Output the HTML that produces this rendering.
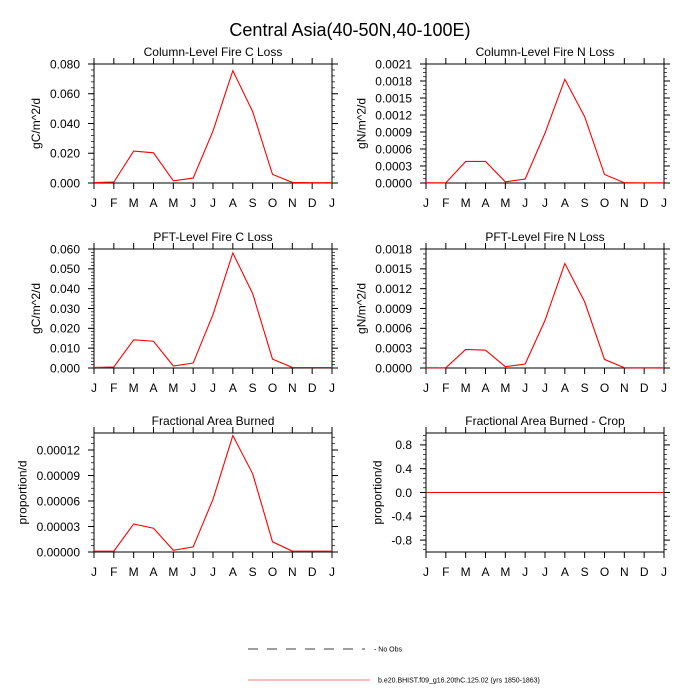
<!DOCTYPE html>
<html><head><meta charset="utf-8"><style>
html,body{margin:0;padding:0;background:#fff;}
svg{display:block;font-family:"Liberation Sans",sans-serif;}
</style></head><body>
<svg id="chart" width="700" height="700" xmlns="http://www.w3.org/2000/svg">
<text x="350" y="36" font-size="18" text-anchor="middle">Central Asia(40-50N,40-100E)</text>
<g id="panels"></g>
<g>
<line x1="248" y1="649" x2="365" y2="649" stroke="#000" stroke-width="0.8" stroke-dasharray="10,9"/>
<text x="374" y="651.5" font-size="7">- No Obs</text>
<line x1="248" y1="680" x2="370" y2="680" stroke="#f08080" stroke-width="1"/>
<text x="378" y="682.5" font-size="7">b.e20.BHIST.f09_g16.20thC.125.02 (yrs 1850-1863)</text>
</g>
</svg>
<script>
const months = ["J","F","M","A","M","J","J","A","S","O","N","D","J"];
const colCLoss = [0.0003,0.0006,0.0215,0.0203,0.0015,0.0033,0.035,0.0755,0.048,0.0058,0.0004,0.0002,0.0002];
const colNLoss = [0.000003,0.000003,0.00038,0.00038,0.00002,0.00007,0.00088,0.00183,0.00117,0.00015,0.000005,0.000003,0.000003];
const pftCLoss = [0.0003,0.0005,0.0142,0.0135,0.001,0.0025,0.027,0.058,0.0375,0.0045,0.0003,0.0002,0.0002];
const pftNLoss = [0.000003,0.000003,0.00028,0.00027,0.00002,0.00006,0.00072,0.00158,0.001,0.00013,0.000004,0.000003,0.000003];
const areaBurned = [0.000001,0.000001,0.000033,0.000028,0.000002,0.000006,0.000062,0.000137,0.000092,0.000012,0.000001,0.000001,0.000001];
const areaBurnedCrop = [0,0,0,0,0,0,0,0,0,0,0,0,0];
const tickColC = ["0.000","0.020","0.040","0.060","0.080"];
const tickColN = ["0.0000","0.0003","0.0006","0.0009","0.0012","0.0015","0.0018","0.0021"];
const tickPftC = ["0.000","0.010","0.020","0.030","0.040","0.050","0.060"];
const tickPftN = ["0.0000","0.0003","0.0006","0.0009","0.0012","0.0015","0.0018"];
const tickArea = ["0.00000","0.00003","0.00006","0.00009","0.00012"];
const tickCrop = ["-0.8","-0.4","0.0","0.4","0.8"];

const NS="http://www.w3.org/2000/svg";
const root=document.getElementById('panels');
function mk(tag,attrs,parent){const e=document.createElementNS(NS,tag);for(const k in attrs)e.setAttribute(k,attrs[k]);parent.appendChild(e);return e;}

const panels=[
 {name:"column-c-loss",title:"Column-Level Fire C Loss",ylab:"gC/m^2/d",x0:94,y0:64,data:colCLoss,ticks:tickColC,min:0,max:0.08,minor:4},
 {name:"column-n-loss",title:"Column-Level Fire N Loss",ylab:"gN/m^2/d",x0:426,y0:64,data:colNLoss,ticks:tickColN,min:0,max:0.0021,minor:3},
 {name:"pft-c-loss",title:"PFT-Level Fire C Loss",ylab:"gC/m^2/d",x0:94,y0:249,data:pftCLoss,ticks:tickPftC,min:0,max:0.06,minor:5},
 {name:"pft-n-loss",title:"PFT-Level Fire N Loss",ylab:"gN/m^2/d",x0:426,y0:249,data:pftNLoss,ticks:tickPftN,min:0,max:0.0018,minor:3},
 {name:"area-burned",title:"Fractional Area Burned",ylab:"proportion/d",x0:94,y0:433,data:areaBurned,ticks:tickArea,min:0,max:0.00014,minor:3},
 {name:"area-burned-crop",title:"Fractional Area Burned - Crop",ylab:"proportion/d",x0:426,y0:433,data:areaBurnedCrop,ticks:tickCrop,min:-1,max:1,minor:4}
];
const W=238,H=119;
panels.forEach(p=>{
 const g=mk('g',{},root);
 
 
 const xs=i=>p.x0+i*W/12;
 const ys=v=>p.y0+H-(v-p.min)/(p.max-p.min)*H;
 const t=mk('text',{x:p.x0+W/2,y:p.y0-8,'font-size':12,'text-anchor':'middle'},g);t.textContent=p.title;
 
 
 months.forEach((m,i)=>{
  const x=xs(i);
  mk('line',{x1:x,y1:p.y0+H,x2:x,y2:p.y0+H+6,stroke:'#000','stroke-width':1},g);
  mk('line',{x1:x,y1:p.y0,x2:x,y2:p.y0-6,stroke:'#000','stroke-width':1},g);
  const tx=mk('text',{x:x,y:p.y0+H+24,'font-size':12,'text-anchor':'middle'},g);tx.textContent=m;
  
  
 });
 let maxW=0;
 p.ticks.forEach(lbl=>{
  const v=parseFloat(lbl);const y=ys(v);
  mk('line',{x1:p.x0,y1:y,x2:p.x0-6,y2:y,stroke:'#000','stroke-width':1},g);
  mk('line',{x1:p.x0+W,y1:y,x2:p.x0+W+6,y2:y,stroke:'#000','stroke-width':1},g);
  const ty=mk('text',{x:p.x0-14,y:y+4.3,'font-size':12,'text-anchor':'end'},g);ty.textContent=lbl;
  
  
  maxW=Math.max(maxW,ty.getComputedTextLength());
 });
 const bx=p.x0-14-maxW-10;
 const yl=mk('text',{transform:`translate(${bx},${p.y0+H/2}) rotate(-90)`,'font-size':12,'text-anchor':'middle'},g);yl.textContent=p.ylab;
 
 
 const step=parseFloat(p.ticks[1])-parseFloat(p.ticks[0]);
 const ms=step/(p.minor+1);
 for(let v=parseFloat(p.ticks[0])-step;v<=p.max+1e-12;v+=ms){
  if(v<p.min-1e-12)continue;
  const y=ys(v);
  mk('line',{x1:p.x0,y1:y,x2:p.x0-3,y2:y,stroke:'#000','stroke-width':0.7},g);
  mk('line',{x1:p.x0+W,y1:y,x2:p.x0+W+3,y2:y,stroke:'#000','stroke-width':0.7},g);
 }
 mk('rect',{x:p.x0,y:p.y0,width:W,height:H,fill:'none',stroke:'#000','stroke-width':1},g);
 const pts=p.data.map((v,i)=>xs(i).toFixed(2)+','+ys(v).toFixed(2)).join(' ');
 const ln=mk('polyline',{points:pts,fill:'none',stroke:'#ff0000','stroke-width':1.1},g);
 
 
});
</script>
</body></html>
